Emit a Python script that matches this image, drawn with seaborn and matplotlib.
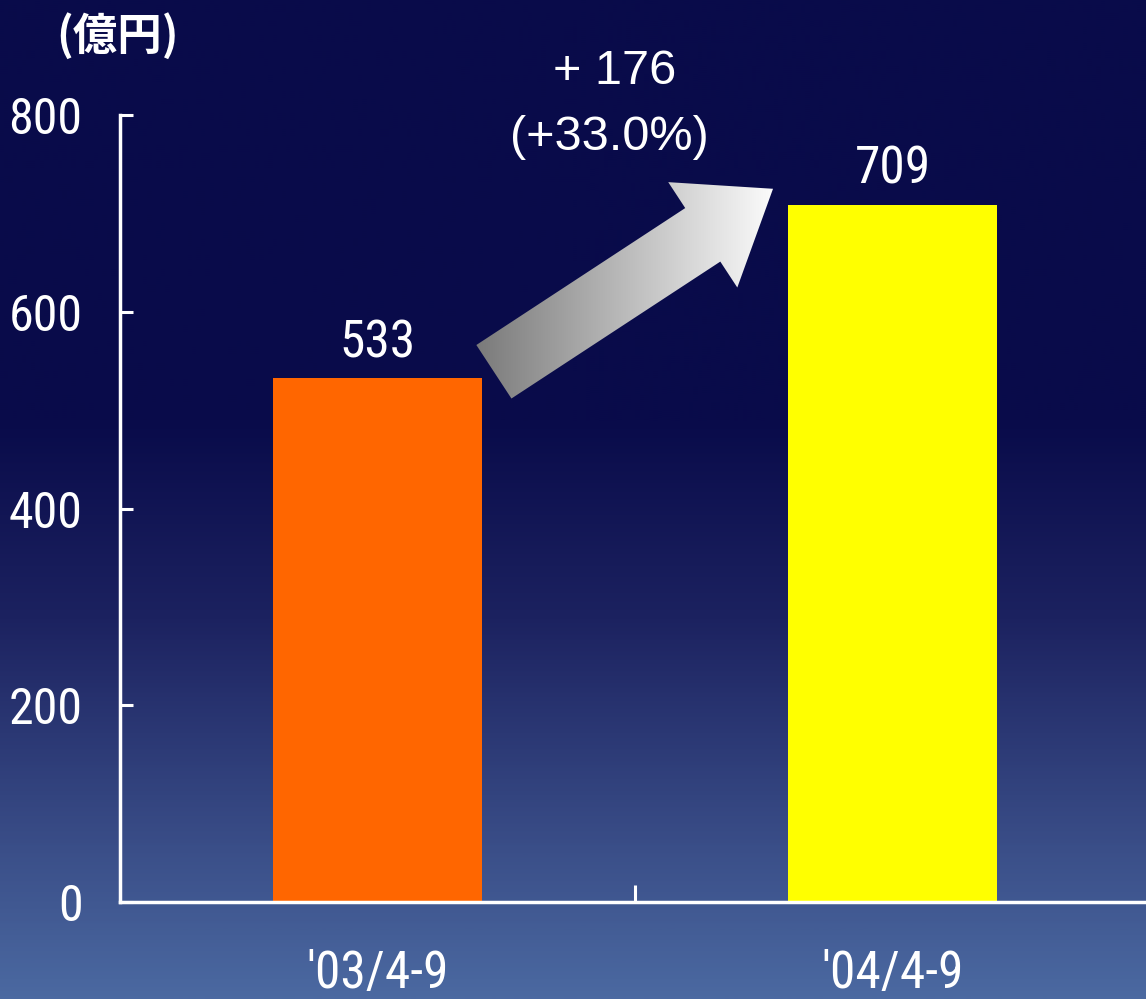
import numpy as np
import pandas as pd
import seaborn as sns
import matplotlib.pyplot as plt
from matplotlib.colors import LinearSegmentedColormap
from matplotlib.patches import Polygon

# Data
periods = ["'03/4-9", "'04/4-9"]
values = [533, 709]
bar_colors = ['#FF6600', '#FFFF00']
diff_label = '+ 176'
pct_label = '(+33.0%)'
unit_label = '(億円)'
yticks = [0, 200, 400, 600, 800]

narrow = ['Roboto Condensed', 'PT Sans Narrow', 'DejaVu Sans']

df = pd.DataFrame({'period': periods, 'value': values})

fig = plt.figure(figsize=(11.46, 9.99), dpi=100)

# Background gradient
bg = fig.add_axes([0, 0, 1, 1], zorder=-10)
bg_cmap = LinearSegmentedColormap.from_list('bg', [(0, '#090b4a'), (0.42, '#090b4a'), (0.62, '#1c2260'),
                                                  (0.85, '#3a4e88'), (1, '#4b69a1')])
bg.imshow(np.linspace(0, 1, 500).reshape(-1, 1), aspect='auto', cmap=bg_cmap, extent=[0, 1, 1, 0])
bg.axis('off')

ax = fig.add_axes([120 / 1146, 97 / 999, 1030 / 1146, 787 / 999])
ax.patch.set_alpha(0)
sns.barplot(data=df, x='period', y='value', hue='period', palette=bar_colors,
            width=0.405, legend=False, ax=ax, saturation=1)
ax.set_xlim(-0.5, 1.5)
ax.set_ylim(0, 800)
ax.set_yticks(yticks)
ax.set_yticklabels([str(t) for t in yticks], fontsize=36, family=narrow, color='white')
ax.set_xticks([0.5], minor=True)
ax.set_xticks([0, 1])
ax.set_xticklabels(periods, fontsize=37, family=narrow, color='white')
ax.tick_params(axis='x', which='major', length=0, pad=34)
ax.tick_params(axis='x', which='minor', direction='in', length=12, width=2.2, color='white')
ax.tick_params(axis='y', direction='in', length=9, width=2.2, color='white', pad=27)
ax.set_xlabel('')
ax.set_ylabel('')
for s in ['top', 'right']:
    ax.spines[s].set_visible(False)
for s in ['left', 'bottom']:
    ax.spines[s].set_color('white')
    ax.spines[s].set_linewidth(2.5)

# Value labels
for i, v in enumerate(values):
    ax.text(i, v + 21, str(v), ha='center', va='baseline', fontsize=37, family=narrow, color='white')

# Gradient arrow, built in pixel space between the two bars
fig.canvas.draw()
p0 = ax.transData.transform((0.226, values[0] + 6))
p1 = ax.transData.transform((0.768, values[1] + 16))
d = (p1 - p0) / np.linalg.norm(p1 - p0)
n = np.array([-d[1], d[0]])
L = np.linalg.norm(p1 - p0)
head_len, shaft_w, head_w = 84, 64, 126
neck = p0 + d * (L - head_len)
pts = [p0 + n * shaft_w / 2, neck + n * shaft_w / 2, neck + n * head_w / 2, p1,
       neck - n * head_w / 2, neck - n * shaft_w / 2, p0 - n * shaft_w / 2]
pts = ax.transData.inverted().transform(np.array(pts))
arrow = Polygon(pts, closed=True, facecolor='none', edgecolor='none')
ax.add_patch(arrow)
acmap = LinearSegmentedColormap.from_list('arr', ['#7a7a7a', '#fbfbfb'])
im = ax.imshow(np.linspace(0, 1, 256).reshape(1, -1), cmap=acmap, aspect='auto',
               extent=[pts[:, 0].min(), pts[:, 0].max(), pts[:, 1].min(), pts[:, 1].max()], zorder=3)
im.set_clip_path(arrow)
ax.set_xlim(-0.5, 1.5)
ax.set_ylim(0, 800)

# Annotations
fig.text(615 / 1146, 1 - 72 / 999, diff_label, ha='center', va='center', fontsize=35,
         family='Liberation Sans', color='white')
fig.text(609 / 1146, 1 - 138 / 999, pct_label, ha='center', va='center', fontsize=35,
         family='Liberation Sans', color='white')
fig.text(117 / 1146, 1 - 36 / 999, unit_label, ha='center', va='center', fontsize=32,
         family=['Noto Sans CJK JP', 'DejaVu Sans'], weight='bold', color='white')

fig.savefig('out.png', dpi=100)
